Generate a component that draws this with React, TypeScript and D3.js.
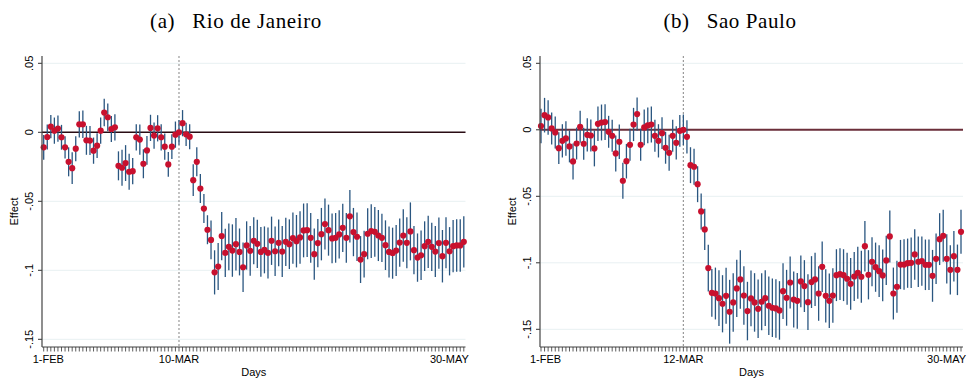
import React from "react";
import * as d3 from "d3";

// y axis ticks (shared)
const yTickValues = [0.05, 0, -0.05, -0.1, -0.15];
const yTickLabels = [".05", "0", "-.05", "-.1", "-.15"];

// x axis: day index of labelled ticks
const rioTickDays = [0, 38, 118];
const rioTickLabels = ["1-FEB", "10-MAR", "30-MAY"];
const spTickDays = [0, 40, 118];
const spTickLabels = ["1-FEB", "12-MAR", "30-MAY"];

// (a) Rio de Janeiro - point estimates, one per day
const rioEffect = [
  -0.0109, -0.0034, 0.0041, 0.0012, 0.0027, -0.0036, -0.0109, -0.0214, -0.026, -0.0119,
  0.0058, 0.0058, -0.0058, -0.006, -0.0133, -0.0097, 0.0012, 0.0143, 0.0109, 0.0024,
  0.0036, -0.0243, -0.0257, -0.0223, -0.0286, -0.0282, -0.0036, -0.0053, -0.0228, -0.0131,
  0.0032, -0.0024, 0.0029, -0.0036, -0.0104, -0.0233, -0.0104, -0.0017, 0.0, 0.0066,
  -0.0015, -0.0032, -0.0347, -0.0214, -0.0408, -0.0553, -0.0706, -0.078, -0.1015, -0.0973,
  -0.0752, -0.0874, -0.083, -0.0857, -0.0811, -0.0867, -0.0978, -0.082, -0.0859, -0.0786,
  -0.0808, -0.0867, -0.0852, -0.0874, -0.0786, -0.0862, -0.0801, -0.0864, -0.0794, -0.0811,
  -0.0767, -0.0789, -0.0762, -0.0711, -0.0709, -0.0765, -0.0883, -0.0803, -0.0738, -0.0665,
  -0.0709, -0.0769, -0.0765, -0.074, -0.0692, -0.0765, -0.0609, -0.0723, -0.0757, -0.0922,
  -0.0883, -0.0735, -0.0716, -0.0721, -0.0748, -0.0765, -0.0818, -0.0867, -0.0876, -0.0857,
  -0.0799, -0.0748, -0.0801, -0.0718, -0.0854, -0.0908, -0.0891, -0.0825, -0.0794, -0.083,
  -0.0864, -0.0803, -0.0898, -0.0801, -0.0862, -0.0825, -0.082, -0.082, -0.0794,
];
// half width of the confidence interval
const rioHalfCI = [
  0.009, 0.009, 0.0085, 0.0095, 0.0095, 0.009, 0.008, 0.0105, 0.0115, 0.009,
  0.0095, 0.01, 0.0105, 0.0105, 0.0095, 0.009, 0.0095, 0.01, 0.01, 0.0095,
  0.0095, 0.0105, 0.013, 0.013, 0.013, 0.0095, 0.0095, 0.011, 0.0105, 0.0105,
  0.0095, 0.0095, 0.0095, 0.0095, 0.0095, 0.009, 0.009, 0.0095, 0.009, 0.0095,
  0.0085, 0.009, 0.0115, 0.0105, 0.0105, 0.0105, 0.0105, 0.014, 0.016, 0.017,
  0.0175, 0.0175, 0.017, 0.019, 0.019, 0.017, 0.018, 0.0175, 0.018, 0.017,
  0.0175, 0.018, 0.017, 0.0185, 0.0175, 0.018, 0.017, 0.0185, 0.0175, 0.018,
  0.0185, 0.019, 0.019, 0.0195, 0.0195, 0.018, 0.0185, 0.0175, 0.019, 0.0185,
  0.0185, 0.018, 0.018, 0.0175, 0.0175, 0.018, 0.019, 0.0175, 0.0175, 0.017,
  0.017, 0.0185, 0.0195, 0.018, 0.0185, 0.0175, 0.018, 0.0185, 0.0185, 0.0185,
  0.0175, 0.019, 0.0185, 0.021, 0.0175, 0.0175, 0.018, 0.018, 0.019, 0.0175,
  0.0185, 0.0185, 0.019, 0.0185, 0.0175, 0.019, 0.019, 0.019, 0.0185,
];

// (b) Sao Paulo
const spEffect = [
  0.0028, 0.011, 0.0093, 0.001, -0.002, -0.0138, -0.0083, -0.0065, -0.0125, -0.0238,
  -0.0103, 0.0023, -0.0105, -0.0038, -0.0043, -0.014, 0.0045, 0.0055, 0.0058, -0.0015,
  -0.0045, -0.0178, -0.009, -0.0383, -0.0236, -0.0113, 0.004, 0.0118, -0.0113, 0.0018,
  0.0033, 0.004, -0.0045, -0.0083, -0.0025, -0.0135, -0.0173, -0.0045, -0.0098, -0.0008,
  0.0, -0.0053, -0.0266, -0.0278, -0.0409, -0.0614, -0.0749, -0.104, -0.1226, -0.1231,
  -0.1266, -0.1308, -0.1248, -0.1368, -0.1298, -0.1193, -0.1125, -0.1246, -0.1363, -0.1268,
  -0.1298, -0.1346, -0.1293, -0.1266, -0.1323, -0.1338, -0.1343, -0.1358, -0.1213, -0.1263,
  -0.1148, -0.1276, -0.1286, -0.114, -0.1175, -0.1296, -0.1145, -0.1125, -0.1231, -0.103,
  -0.1248, -0.1286, -0.1246, -0.1093, -0.1085, -0.1093, -0.112, -0.1158, -0.1103, -0.1075,
  -0.1105, -0.0875, -0.109, -0.0992, -0.1033, -0.1063, -0.1095, -0.0982, -0.0802, -0.1231,
  -0.118, -0.1013, -0.1013, -0.1003, -0.1, -0.0937, -0.0992, -0.0987, -0.1015, -0.1015,
  -0.1098, -0.097, -0.0822, -0.0797, -0.097, -0.1053, -0.095, -0.1053, -0.0767,
];
const spHalfCI = [
  0.013, 0.013, 0.013, 0.012, 0.012, 0.012, 0.0125, 0.013, 0.012, 0.0135,
  0.012, 0.012, 0.012, 0.0125, 0.012, 0.0135, 0.013, 0.0135, 0.0135, 0.012,
  0.012, 0.0135, 0.013, 0.0135, 0.013, 0.012, 0.0125, 0.0125, 0.012, 0.0135,
  0.0135, 0.0135, 0.012, 0.0125, 0.012, 0.012, 0.0135, 0.012, 0.0125, 0.012,
  0.0115, 0.0125, 0.0135, 0.0135, 0.0135, 0.0135, 0.0155, 0.0175, 0.018, 0.0195,
  0.021, 0.0215, 0.021, 0.024, 0.022, 0.0215, 0.022, 0.022, 0.022, 0.021,
  0.022, 0.022, 0.0215, 0.021, 0.022, 0.022, 0.022, 0.022, 0.021, 0.021,
  0.0195, 0.021, 0.021, 0.0195, 0.0195, 0.021, 0.0195, 0.02, 0.0205, 0.019,
  0.02, 0.0205, 0.0205, 0.0195, 0.0195, 0.0195, 0.0195, 0.0195, 0.0185, 0.0195,
  0.0195, 0.019, 0.0185, 0.0185, 0.0185, 0.0195, 0.0195, 0.0185, 0.0195, 0.0195,
  0.0195, 0.0185, 0.019, 0.0185, 0.019, 0.019, 0.019, 0.0185, 0.019, 0.019,
  0.0195, 0.019, 0.0195, 0.0195, 0.0185, 0.0185, 0.019, 0.019, 0.0165,
];

type PanelProps = {
  label: string;
  name: string;
  effect: number[];
  half: number[];
  tickDays: number[];
  tickLabels: string[];
  axisX: number;
  xFirst: number;
  xLast: number;
  yTop: number;
  yBottom: number;
  plotRight: number;
  titleX: number;
  zeroColor: string;
  zeroWidth: number;
};

const sans = "'Liberation Sans', Arial, sans-serif";
const serif = "'Liberation Serif', 'Times New Roman', serif";
const axisTop = 56;
const axisBottom = 347;

function Panel(p: PanelProps) {
  const x = d3.scaleLinear().domain([0, p.effect.length - 1]).range([p.xFirst, p.xLast]);
  const y = d3.scaleLinear().domain([-0.15, 0.05]).range([p.yBottom, p.yTop]);
  const days = d3.range(p.effect.length);
  const centerX = (p.axisX + p.plotRight) / 2;
  const midY = (axisTop + axisBottom) / 2;
  const last = p.tickDays.length - 1;
  return (
    <g>
      <text
        x={p.titleX}
        y={28}
        fontFamily={serif}
        fontSize={21}
        letterSpacing={0.6}
        textAnchor="middle"
      >
        {p.label}
        {"\u2002 "}
        {p.name}
      </text>
      {yTickValues.map((v, i) => (
        <g key={"g" + i}>
          <line x1={p.axisX} x2={p.plotRight} y1={y(v)} y2={y(v)} stroke="#e8f0f2" strokeWidth={1} />
          <line x1={p.axisX - 4} x2={p.axisX} y1={y(v)} y2={y(v)} stroke="#333" strokeWidth={1} />
          <text
            transform={`translate(${p.axisX - 9},${y(v)}) rotate(-90)`}
            fontFamily={sans}
            fontSize={11}
            textAnchor="middle"
          >
            {yTickLabels[i]}
          </text>
        </g>
      ))}
      <line x1={p.axisX} x2={p.plotRight} y1={y(0)} y2={y(0)} stroke={p.zeroColor} strokeWidth={p.zeroWidth} />
      <line
        x1={x(p.tickDays[1])}
        x2={x(p.tickDays[1])}
        y1={axisTop}
        y2={axisBottom}
        stroke="#999"
        strokeWidth={1.2}
        strokeDasharray="2,2"
      />
      {days.map((d) => (
        <line
          key={"ci" + d}
          x1={x(d)}
          x2={x(d)}
          y1={y(p.effect[d] - p.half[d])}
          y2={y(p.effect[d] + p.half[d])}
          stroke="#2a5680"
          strokeWidth={1.3}
        />
      ))}
      {days.map((d) => (
        <circle key={"pt" + d} cx={x(d)} cy={y(p.effect[d])} r={3.1} fill="#c8102e" />
      ))}
      <line x1={p.axisX} x2={p.axisX} y1={axisTop} y2={axisBottom} stroke="#444" strokeWidth={1.2} />
      <line x1={p.axisX} x2={p.plotRight} y1={axisBottom} y2={axisBottom} stroke="#444" strokeWidth={1.2} />
      {days.map((d) => (
        <line key={"tk" + d} x1={x(d)} x2={x(d)} y1={axisBottom} y2={axisBottom + 4.5} stroke="#333" strokeWidth={0.8} />
      ))}
      {p.tickDays.map((d, i) => (
        <text
          key={"xl" + i}
          x={i === 0 ? x(d) - 11 : i === last ? x(d) + 5 : x(d)}
          y={363}
          fontFamily={sans}
          fontSize={11}
          textAnchor={i === 0 ? "start" : i === last ? "end" : "middle"}
        >
          {p.tickLabels[i]}
        </text>
      ))}
      <text x={centerX} y={376} fontFamily={sans} fontSize={11} textAnchor="middle">
        Days
      </text>
      <text
        transform={`translate(${p.axisX - 24},${midY + 10}) rotate(-90)`}
        fontFamily={sans}
        fontSize={11}
        textAnchor="middle"
      >
        Effect
      </text>
    </g>
  );
}

export default function App() {
  return (
    <svg
      width={973}
      height={380}
      viewBox="0 0 973 380"
      style={{ position: "absolute", left: 0, top: 0, background: "#fff" }}
    >
      <rect width={973} height={380} fill="#fff" />
      <Panel
        label="(a)"
        name="Rio de Janeiro"
        effect={rioEffect}
        half={rioHalfCI}
        tickDays={rioTickDays}
        tickLabels={rioTickLabels}
        axisX={42}
        xFirst={43.7}
        xLast={463.8}
        yTop={63.3}
        yBottom={339.3}
        plotRight={465.5}
        titleX={236}
        zeroColor="#2a0c14"
        zeroWidth={1.5}
      />
      <Panel
        label="(b)"
        name="Sao Paulo"
        effect={spEffect}
        half={spHalfCI}
        tickDays={spTickDays}
        tickLabels={spTickLabels}
        axisX={540}
        xFirst={541}
        xLast={961}
        yTop={63.3}
        yBottom={329.3}
        plotRight={963}
        titleX={730}
        zeroColor="#6b2e3a"
        zeroWidth={2}
      />
    </svg>
  );
}
